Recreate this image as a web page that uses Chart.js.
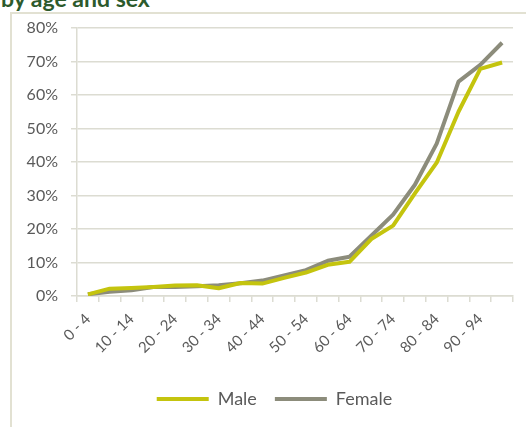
<!DOCTYPE html>
<html>
<head>
<meta charset="utf-8">
<script src="https://cdn.jsdelivr.net/npm/chart.js@4.4.1/dist/chart.umd.min.js"></script>
<style>
  html, body { margin: 0; padding: 0; background: #fff; }
  body { width: 526px; height: 427px; position: relative; overflow: hidden; font-family: Lato, sans-serif; }
  #titulo { position: absolute; left: 1px; top: -13px; font-size: 23px; line-height: 22px; font-weight: bold; color: #2d5a2c; white-space: nowrap; }
  #marco { position: absolute; left: 10px; top: 12px; width: 540px; height: 440px; border: 2px solid #e2e1d2; box-sizing: border-box; }
  #grafico { position: absolute; left: 0; top: 0; }
</style>
</head>
<body>
<div id="titulo">by age and sex</div>
<div id="marco"></div>
<canvas id="grafico" width="526" height="427"></canvas>
<script>
// ===============================
// Datos: proporción por grupo de edad (%)
// ===============================
const gruposEdad = ['0 - 4', '5 - 9', '10 - 14', '15 - 19', '20 - 24', '25 - 29', '30 - 34', '35 - 39',
  '40 - 44', '45 - 49', '50 - 54', '55 - 59', '60 - 64', '65 - 69', '70 - 74', '75 - 79',
  '80 - 84', '85 - 89', '90 - 94', '95+'];
const hombres = [0.5, 2.2, 2.4, 2.7, 3.1, 3.2, 2.3, 3.9, 3.7, 5.4, 7.0, 9.3, 10.2, 17.0, 21.0, 30.6, 39.8, 55.0, 67.8, 69.7];
const mujeres = [0.5, 1.3, 1.7, 2.7, 2.7, 2.9, 3.2, 3.8, 4.6, 6.1, 7.7, 10.5, 11.7, 18.0, 24.3, 33.2, 45.5, 64.0, 69.0, 75.6];
const ticksY = [0, 10, 20, 30, 40, 50, 60, 70, 80];

const colorHombres = '#c4c40e';
const colorMujeres = '#8c8c7b';
const colorTexto = '#5a5a5a';
const colorRejilla = '#dcdcd2';

// Desplaza la leyenda un poco a la derecha del centro
const moverLeyenda = {
  id: 'moverLeyenda',
  afterUpdate: function (chart) {
    chart.legend.left += 18;
    chart.legend.right += 18;
  }
};

// ===============================
// Gráfico de líneas
// ===============================
const ctx = document.getElementById('grafico').getContext('2d');
new Chart(ctx, {
  type: 'line',
  data: {
    labels: gruposEdad,
    datasets: [
      {
        label: 'Male',
        data: hombres,
        borderColor: colorHombres,
        backgroundColor: colorHombres,
        borderWidth: 4,
        pointRadius: 0,
        tension: 0,
        borderJoinStyle: 'round'
      },
      {
        label: 'Female',
        data: mujeres,
        borderColor: colorMujeres,
        backgroundColor: colorMujeres,
        borderWidth: 4,
        pointRadius: 0,
        tension: 0,
        borderJoinStyle: 'round'
      }
    ]
  },
  plugins: [moverLeyenda],
  options: {
    responsive: false,
    animation: false,
    layout: { padding: { top: 28, right: 13, left: 0, bottom: 9 } },
    scales: {
      x: {
        offset: true,
        grid: { drawOnChartArea: false, offset: true, tickLength: 6, color: colorRejilla, lineWidth: 1.5 },
        border: { color: colorRejilla, width: 1.5 },
        afterFit: function (escala) { escala.height = 76; },
        ticks: {
          autoSkip: false,
          minRotation: 45,
          maxRotation: 45,
          padding: 8,
          color: colorTexto,
          font: { family: 'Lato', size: 15 },
          callback: function (valor, i) { return i % 2 === 0 ? gruposEdad[i] : ''; }
        }
      },
      y: {
        min: 0,
        max: 80,
        afterFit: function (escala) { escala.width = 77; },
        afterBuildTicks: function (escala) { escala.ticks = ticksY.map(v => ({ value: v })); },
        grid: { color: colorRejilla, lineWidth: 1.5, tickLength: 6 },
        border: { color: colorRejilla, width: 1.5 },
        ticks: {
          padding: 13,
          color: colorTexto,
          font: { family: 'Lato', size: 16 },
          callback: function (valor) { return valor + '%'; }
        }
      }
    },
    plugins: {
      tooltip: { enabled: false },
      legend: {
        position: 'bottom',
        labels: {
          usePointStyle: true,
          pointStyle: 'line',
          pointStyleWidth: 52,
          boxHeight: 4,
          padding: 18,
          color: colorTexto,
          font: { family: 'Lato', size: 18 }
        }
      }
    }
  }
});
</script>
</body>
</html>
